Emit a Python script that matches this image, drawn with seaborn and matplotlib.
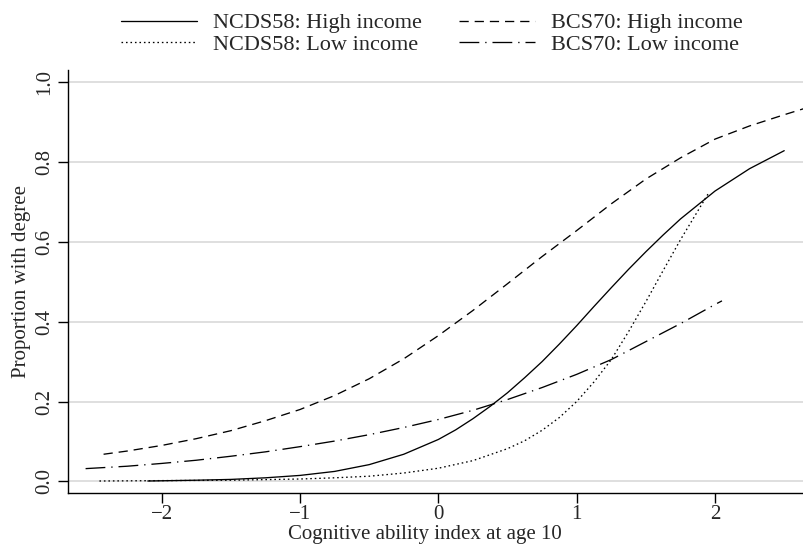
import numpy as np
import pandas as pd
import matplotlib
matplotlib.use("Agg")
import matplotlib.pyplot as plt
import seaborn as sns

# Values
ncds_high_x = [-2.1, -1.75, -1.5, -1.25, -1.0, -0.75, -0.5, -0.25, 0.0, 0.125, 0.25, 0.375,
               0.5, 0.625, 0.75, 0.875, 1.0, 1.125, 1.25, 1.375, 1.5, 1.625, 1.75, 2.0,
               2.25, 2.5]
ncds_high_y = [0.001, 0.003, 0.005, 0.009, 0.015, 0.025, 0.042, 0.068, 0.105, 0.129, 0.157, 0.188,
               0.222, 0.260, 0.300, 0.344, 0.390, 0.438, 0.485, 0.531, 0.575, 0.617, 0.657, 0.727,
               0.783, 0.828]

ncds_low_x = [-2.45, -2.0, -1.5, -1.0, -0.75, -0.5, -0.25, 0.0, 0.25, 0.5, 0.625, 0.75,
              0.875, 1.0, 1.125, 1.25, 1.375, 1.5, 1.625, 1.75, 1.95]
ncds_low_y = [0.001, 0.002, 0.003, 0.006, 0.009, 0.013, 0.021, 0.033, 0.052, 0.082, 0.102, 0.128,
              0.160, 0.200, 0.249, 0.305, 0.375, 0.450, 0.528, 0.605, 0.720]

bcs_high_x = [-2.42, -2.25, -2.0, -1.75, -1.5, -1.25, -1.0, -0.75, -0.5, -0.25, 0.0, 0.25,
              0.5, 0.75, 1.0, 1.25, 1.5, 1.75, 2.0, 2.25, 2.5, 2.64]
bcs_high_y = [0.068, 0.076, 0.09, 0.107, 0.127, 0.152, 0.18, 0.215, 0.257, 0.307, 0.365, 0.428,
              0.495, 0.563, 0.628, 0.695, 0.757, 0.81, 0.857, 0.89, 0.918, 0.933]

bcs_low_x = [-2.55, -2.25, -2.0, -1.75, -1.5, -1.25, -1.0, -0.75, -0.5, -0.25, 0.0, 0.25,
             0.5, 0.75, 1.0, 1.25, 1.5, 1.75, 2.0, 2.05]
bcs_low_y = [0.032, 0.038, 0.045, 0.053, 0.063, 0.074, 0.087, 0.101, 0.117, 0.135, 0.155, 0.178,
             0.205, 0.235, 0.268, 0.305, 0.35, 0.395, 0.443, 0.452]

# order chosen so the two-column legend reads row-wise like the original
series = [
    ("NCDS58: High income", ncds_high_x, ncds_high_y, "-"),
    ("NCDS58: Low income", ncds_low_x, ncds_low_y, (0, (1.2, 2.2))),
    ("BCS70: High income", bcs_high_x, bcs_high_y, (0, (7, 4.5))),
    ("BCS70: Low income", bcs_low_x, bcs_low_y, (0, (15, 4.5, 1, 4.5))),
]

sns.set_style("white")
plt.rcParams["font.family"] = ["Liberation Serif", "DejaVu Serif"]

fig = plt.figure(figsize=(8.04, 5.52), dpi=100)
ax = fig.add_axes([0.0846, 0.1069, 0.9154, 0.7663])

for name, xs, ys, ls in series:
    df = pd.DataFrame({"x": xs, "y": ys})
    sns.lineplot(data=df, x="x", y="y", ax=ax, color="black", linewidth=0.95,
                 linestyle=ls, label=name, estimator=None, sort=True, legend=False)

ax.set_xlim(-2.677, 2.643)
ax.set_ylim(-0.029, 1.030)
ax.set_xticks([-2, -1, 0, 1, 2])
ax.set_xticklabels(["\u22122", "\u22121", "0", "1", "2"])
ax.set_yticks([0.0, 0.2, 0.4, 0.6, 0.8, 1.0])
ax.set_yticklabels(["0.0", "0.2", "0.4", "0.6", "0.8", "1.0"], rotation=90, va="center")
ax.yaxis.grid(True, color="#dcdcdc", linewidth=1.3)
ax.xaxis.grid(False)
ax.set_axisbelow(True)

for s in ["top", "right"]:
    ax.spines[s].set_visible(False)
for s in ["left", "bottom"]:
    ax.spines[s].set_color("black")
    ax.spines[s].set_linewidth(1.0)

ax.tick_params(axis="both", direction="out", length=7, width=1, color="black",
               labelsize=15, left=True, bottom=True)
ax.tick_params(axis="x", pad=2)
ax.tick_params(axis="y", pad=3)
ax.set_xlabel("Cognitive ability index at age 10", fontsize=15, labelpad=1)
ax.xaxis.set_label_coords((425 - 68) / 736, -0.075)
ax.set_ylabel("Proportion with degree", fontsize=15, labelpad=3)

handles, labels = ax.get_legend_handles_labels()
fig.legend(handles, labels, loc="upper center", bbox_to_anchor=(0.537, 0.985), ncol=2,
           frameon=False, fontsize=16, handlelength=3.42, columnspacing=1.66,
           handletextpad=0.72, labelspacing=0.05, borderaxespad=0.1, borderpad=0.1)

plt.savefig("out.png", dpi=100)
